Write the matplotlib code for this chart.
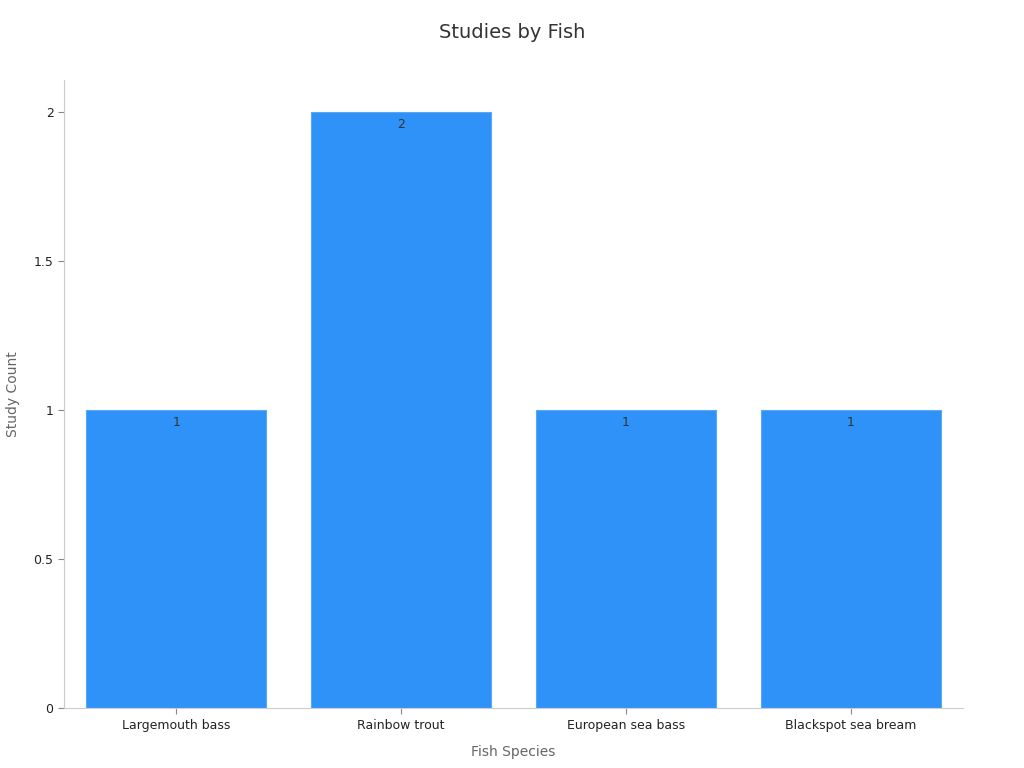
import matplotlib.pyplot as plt

species = ["Largemouth bass", "Rainbow trout", "European sea bass", "Blackspot sea bream"]
counts = [1, 2, 1, 1]

fig = plt.figure(figsize=(10.24, 7.68), dpi=100)
ax = fig.add_axes([0.0625, 0.078, 0.878, 0.818])

bars = ax.bar(range(len(species)), counts, width=0.8, color="#2F92F8", edgecolor="#5aa8f5", linewidth=0.8)
for b, v in zip(bars, counts):
    ax.text(b.get_x() + b.get_width() / 2, v - 0.02, str(v), ha="center", va="top",
            fontsize=9, color="#333333")

ax.set_xlim(-0.5, 3.5)
ax.set_ylim(0, 2.107)
ax.set_xticks(range(len(species)))
ax.set_xticklabels(species, fontsize=9, color="#222222")
ax.set_yticks([0, 0.5, 1, 1.5, 2])
ax.set_yticklabels(["0", "0.5", "1", "1.5", "2"], fontsize=9, color="#222222")
ax.tick_params(color="#888888", length=4)

for s in ["top", "right"]:
    ax.spines[s].set_visible(False)
for s in ["left", "bottom"]:
    ax.spines[s].set_color("#cccccc")

ax.set_xlabel("Fish Species", fontsize=10, color="#666666", labelpad=10)
ax.set_ylabel("Study Count", fontsize=10, color="#666666", labelpad=10)
fig.suptitle("Studies by Fish", fontsize=14, color="#333333", y=0.97)

fig.savefig("out.png", dpi=100)
